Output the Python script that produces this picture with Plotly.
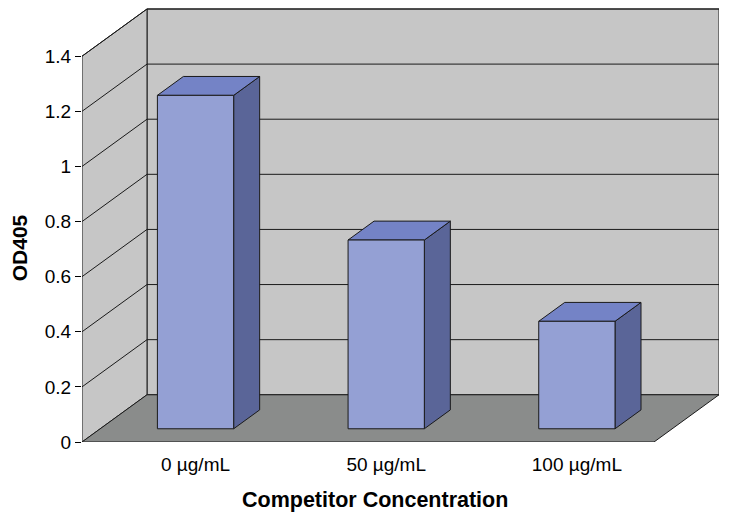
import plotly.graph_objects as go

# data
categories = ["0 µg/mL", "50 µg/mL", "100 µg/mL"]
od405 = [1.21, 0.685, 0.39]
y_ticks = [0, 0.2, 0.4, 0.6, 0.8, 1.0, 1.2, 1.4]
y_ticktext = ["0", "0.2", "0.4", "0.6", "0.8", "1", "1.2", "1.4"]

# fake 3d projection, in axis units
DX = 0.3409      # depth shift along x for full floor depth
DY = 0.1714      # depth shift along y for full floor depth
D0, D1 = 0.28, 0.68   # front / back depth of the bars
HALF = 0.2       # half bar width
YTOP = y_ticks[-1]
X0, X1 = -0.5, len(categories) - 0.5

WALL = "#c6c6c6"
FLOOR = "#8a8c8b"
FRONT = "#94a0d4"
TOP = "#7483c6"
SIDE = "#5a6598"
EDGE = "#1a1a1a"

fig = go.Figure()


def poly(xs, ys, fill, width=1):
    fig.add_trace(go.Scatter(
        x=xs + [xs[0]], y=ys + [ys[0]], mode="lines", fill="toself",
        fillcolor=fill, line=dict(color=EDGE, width=width),
        hoverinfo="skip", showlegend=False))


def line(xs, ys):
    fig.add_trace(go.Scatter(
        x=xs, y=ys, mode="lines", line=dict(color=EDGE, width=1),
        hoverinfo="skip", showlegend=False))


# walls and floor
poly([X0 + DX, X1 + DX, X1 + DX, X0 + DX], [DY, DY, YTOP + DY, YTOP + DY], WALL)
poly([X0, X0 + DX, X0 + DX, X0], [0, DY, YTOP + DY, YTOP], WALL)
poly([X0, X1, X1 + DX, X0 + DX], [0, 0, DY, DY], FLOOR)

# gridlines: back wall and left wall
for v in y_ticks[1:]:
    line([X0 + DX, X1 + DX], [v + DY, v + DY])
    line([X0, X0 + DX], [v, v + DY])

# bars
for i, v in enumerate(od405):
    xl, xr = i - HALF, i + HALF
    fx, fy = D0 * DX, D0 * DY
    bx, by = D1 * DX, D1 * DY
    # right side
    poly([xr + fx, xr + bx, xr + bx, xr + fx], [fy, by, v + by, v + fy], SIDE)
    # top
    poly([xl + fx, xr + fx, xr + bx, xl + bx], [v + fy, v + fy, v + by, v + by], TOP)
    # front
    poly([xl + fx, xr + fx, xr + fx, xl + fx], [fy, fy, v + fy, v + fy], FRONT)

fig.update_layout(
    width=729, height=520,
    margin=dict(l=74, r=18, t=0, b=86, pad=0),
    paper_bgcolor="white", plot_bgcolor="white",
    font=dict(family="Liberation Sans, Arial, sans-serif", color="black", size=18),
    xaxis=dict(
        range=[X0, X0 + 637 / 190.67], showgrid=False, zeroline=False, showline=False,
        tickvals=[i + D0 * DX for i in range(len(categories))], ticktext=categories,
        ticks="outside", ticklen=5, tickcolor="rgba(0,0,0,0)",
        tickfont=dict(size=19), automargin=False,
    ),
    yaxis=dict(
        range=[0, 432 / 274.29], showgrid=False, zeroline=False, showline=False,
        tickvals=y_ticks, ticktext=y_ticktext,
        ticks="outside", ticklen=6, tickcolor="black", tickwidth=1,
        tickfont=dict(size=19), automargin=False,
    ),
    annotations=[
        # axis titles (Excel centres them off the plot area centre)
        dict(text="<b>Competitor Concentration</b>", xref="paper", yref="paper",
             x=0.46, y=-0.134, xanchor="center", yanchor="middle",
             showarrow=False, font=dict(size=21.5)),
        dict(text="<b>OD405</b>", xref="paper", yref="paper",
             x=-0.0985, y=0.447, xanchor="center", yanchor="middle",
             textangle=-90, showarrow=False, font=dict(size=21)),
    ],
)

fig.write_html("out.html")
